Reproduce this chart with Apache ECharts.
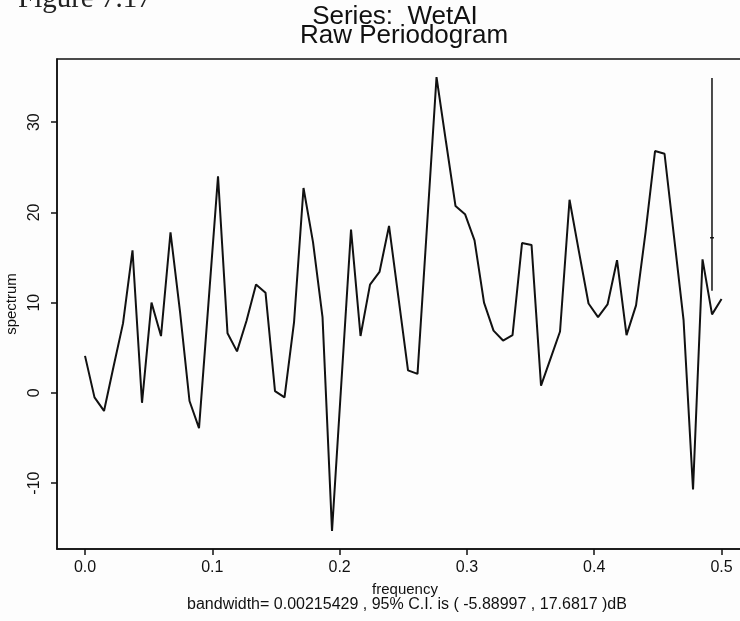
<!DOCTYPE html>
<html>
<head>
<meta charset="utf-8">
<script src="https://cdn.jsdelivr.net/npm/echarts@6/dist/echarts.min.js"></script>
<style>
html,body{margin:0;padding:0;background:#fdfdfd;}
#chart{width:740px;height:621px;}
</style>
</head>
<body>
<div id="chart"></div>
<script>
// frequencies (k/134)
const frequency = [0,0.00746,0.01493,0.02239,0.02985,0.03731,0.04478,0.05224,0.05970,0.06716,
0.07463,0.08209,0.08955,0.09701,0.10448,0.11194,0.11940,0.12687,0.13433,0.14179,
0.14925,0.15672,0.16418,0.17164,0.17910,0.18657,0.19403,0.20149,0.20896,0.21642,
0.22388,0.23134,0.23881,0.24627,0.25373,0.26119,0.26866,0.27612,0.28358,0.29104,
0.29851,0.30597,0.31343,0.32090,0.32836,0.33582,0.34328,0.35075,0.35821,0.36567,
0.37313,0.38060,0.38806,0.39552,0.40299,0.41045,0.41791,0.42537,0.43284,0.44030,
0.44776,0.45522,0.46269,0.47015,0.47761,0.48507,0.49254,0.50000];
// raw periodogram, dB
const spectrum = [4.1,-0.5,-2.0,2.9,7.7,15.8,-1.1,10.0,6.3,17.8,
9.0,-0.9,-3.9,10.0,24.0,6.6,4.6,8.0,12.0,11.1,
0.2,-0.5,7.8,22.7,16.7,8.4,-15.3,1.4,18.1,6.3,
12.0,13.4,18.5,10.5,2.5,2.1,18.5,35.0,27.8,20.7,
19.8,16.9,10.0,6.9,5.8,6.4,16.6,16.4,0.8,3.8,
6.8,21.4,15.6,9.9,8.4,9.8,14.7,6.4,9.7,17.8,
26.8,26.5,17.3,8.1,-10.7,14.8,8.7,10.4];
// confidence interval bar
const ciX = 0.4925;
const ciCenter = 17.2;
const ciLower = -5.88997;
const ciUpper = 17.6817;
const xTicks = [0, 0.1, 0.2, 0.3, 0.4, 0.5];
const yTicks = [-10, 0, 10, 20, 30];
const xTickLabels = ['0.0','0.1','0.2','0.3','0.4','0.5'];

const font = 'Liberation Sans, Arial, Helvetica, sans-serif';
const ink = '#111';

const lineData = frequency.map((f, i) => [f, spectrum[i]]);
const ciLine = [[ciX, ciCenter + ciLower], [ciX, ciCenter + ciUpper]];
const ciTick = [[ciX - 0.0015, ciCenter], [ciX + 0.0015, ciCenter]];

const chart = echarts.init(document.getElementById('chart'), null, {renderer: 'canvas'});
chart.setOption({
  backgroundColor: '#fdfdfd',
  animation: false,
  grid: {left: 57, top: 59, width: 690, height: 490, containLabel: false, outerBoundsMode: 'none',
    show: true, borderColor: ink, borderWidth: 1.5, backgroundColor: 'transparent'},
  xAxis: {
    type: 'value', min: -0.022, max: 0.52,
    splitLine: {show: false},
    axisLine: {show: true, onZero: false, lineStyle: {color: ink, width: 1.5}},
    axisTick: {show: true, length: 6, inside: false, customValues: xTicks, lineStyle: {color: ink, width: 1.5}},
    axisLabel: {customValues: xTicks, margin: 11, color: ink, fontSize: 16, fontFamily: font,
      formatter: v => { const i = xTicks.findIndex(t => Math.abs(t - v) < 1e-9); return i >= 0 ? xTickLabels[i] : ''; }}
  },
  yAxis: {
    type: 'value', min: -17.3, max: 37.0,
    name: 'spectrum', nameLocation: 'middle', nameRotate: 90, nameGap: 38,
    nameTextStyle: {color: ink, fontSize: 15, fontFamily: font},
    splitLine: {show: false},
    axisLine: {show: true, onZero: false, lineStyle: {color: ink, width: 1.5}},
    axisTick: {show: true, length: 6, inside: false, customValues: yTicks, lineStyle: {color: ink, width: 1.5}},
    axisLabel: {customValues: yTicks, rotate: 90, margin: 14, color: ink, fontSize: 16, fontFamily: font}
  },
  series: [
    {type: 'line', data: lineData, showSymbol: false, symbol: 'none', lineStyle: {color: ink, width: 2}},
    {type: 'line', data: ciLine, showSymbol: false, symbol: 'none', lineStyle: {color: ink, width: 1.5}},
    {type: 'line', data: ciTick, showSymbol: false, symbol: 'none', lineStyle: {color: ink, width: 1.5}}
  ],
  graphic: [
    {type: 'text', left: 18, top: -15, style: {text: 'Figure 7.17', font: '29px "Liberation Serif", "Times New Roman", serif', fill: '#222'}},
    {type: 'text', x: 395, y: 17, style: {text: 'Series:  WetAI', font: '26px ' + font, fill: ink, align: 'center', verticalAlign: 'middle'}},
    {type: 'text', x: 404, y: 36, style: {text: 'Raw Periodogram', font: '26px ' + font, fill: ink, align: 'center', verticalAlign: 'middle'}},
    {type: 'text', x: 405, y: 590, style: {text: 'frequency', font: '15px ' + font, fill: ink, align: 'center', verticalAlign: 'middle'}},
    {type: 'text', x: 407, y: 605, style: {text: 'bandwidth= 0.00215429 , 95% C.I. is ( -5.88997 , 17.6817 )dB', font: '16px ' + font, fill: ink, align: 'center', verticalAlign: 'middle'}}
  ]
});
</script>
</body>
</html>
